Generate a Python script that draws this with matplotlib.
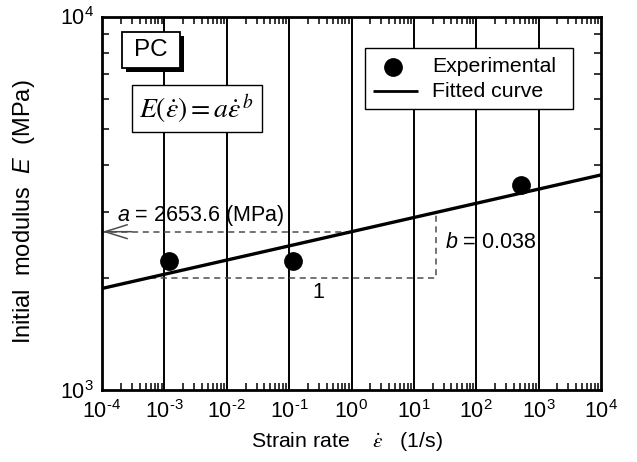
import numpy as np
import matplotlib
matplotlib.use("Agg")
import matplotlib.pyplot as plt
from matplotlib.ticker import LogLocator, NullFormatter, FixedLocator
from matplotlib.patches import Rectangle

plt.rcParams['font.family'] = ['Liberation Sans', 'DejaVu Sans']
plt.rcParams['mathtext.fontset'] = 'custom'
plt.rcParams['mathtext.rm'] = 'Liberation Sans'
plt.rcParams['mathtext.it'] = 'Liberation Sans:italic'
plt.rcParams['mathtext.bf'] = 'Liberation Sans:bold'
plt.rcParams['mathtext.sf'] = 'Liberation Sans'

# data
strain_rate = [1.19e-3, 1.15e-1, 519.0]
modulus = [2213.0, 2213.0, 3540.0]
a_coef = 2653.6
b_coef = 0.038
x_exponents = [-4, -3, -2, -1, 0, 1, 2, 3, 4]
y_exponents = [3, 4]
legend_labels = ['Experimental', 'Fitted curve']

x_ticks = [10.0**k for k in x_exponents]
x_ticklabels = [r'10$^{\text{%d}}$' % k for k in x_exponents]
y_ticks = [10.0**k for k in y_exponents]
y_ticklabels = [r'10$^{\text{%d}}$' % k for k in y_exponents]

W, H = 637, 462
fig = plt.figure(figsize=(W / 100, H / 100), dpi=100)
ax = fig.add_axes([102 / W, 1 - 390 / H, 499 / W, 373.5 / H])
ax.set_xscale('log')
ax.set_yscale('log')
ax.set_xlim(x_ticks[0], x_ticks[-1])
ax.set_ylim(y_ticks[0], y_ticks[-1])

for xv in x_ticks[1:-1]:
    ax.axvline(xv, color='black', lw=1.4, zorder=1)

xf = np.logspace(-4, 4, 200)
ax.plot(xf, a_coef * xf**b_coef, color='black', lw=2.4, zorder=3)
ax.plot(strain_rate, modulus, 'o', color='black', ms=12.5, zorder=4)

# dashed guide lines
dash = (0, (4, 3))
gc = '#4d4d4d'
ax.plot([1.0, 1.0e-4], [a_coef, a_coef], ls=dash, color=gc, lw=1.1, zorder=2)
ax.annotate('', xy=(1.02e-4, a_coef), xytext=(3.0e-4, a_coef),
            arrowprops=dict(arrowstyle='->,head_length=0.8,head_width=0.25',
                            color=gc, lw=1.1, mutation_scale=20, shrinkA=0, shrinkB=0))
x0, x1 = 5.87e-4, 22.5
ax.plot([x0, x1, x1], [a_coef * x0**b_coef, a_coef * x0**b_coef, a_coef * x1**b_coef],
        ls=dash, color=gc, lw=1.1, zorder=2)

ax.text(1.74e-4, 2925, r'$a$ = 2653.6 (MPa)', fontsize=15.5, va='center', ha='left', zorder=5)
ax.text(31.4, 2490, r'$b$ = 0.038', fontsize=15.5, va='center', ha='left', zorder=5)
ax.text(0.29, 1819, '1', fontsize=15.5, va='center', ha='center', zorder=5)

tA = ax.transAxes
sx, sy = 4 / 499, 4 / 373.5
# PC label with drop shadow
ax.add_patch(Rectangle((0.040 + sx, 0.862 - sy), 0.116, 0.096, transform=tA,
                       fc='black', ec='black', lw=0, zorder=6))
ax.add_patch(Rectangle((0.040, 0.862), 0.116, 0.096, transform=tA,
                       fc='white', ec='black', lw=1.3, zorder=7))
ax.text(0.098, 0.911, 'PC', transform=tA, fontsize=17.5, va='center', ha='center', zorder=8)

# equation box
ax.add_patch(Rectangle((0.060, 0.691), 0.261, 0.126, transform=tA,
                       fc='white', ec='black', lw=1.0, zorder=7))
ax.text(0.19, 0.752, r'$E(\dot{\varepsilon}) = a\dot{\varepsilon}^{\,b}$', transform=tA,
        fontsize=20, va='center', ha='center', zorder=8, math_fontfamily='stix')

# legend (drawn in axes coordinates)
ax.add_patch(Rectangle((0.527, 0.753), 0.417, 0.163, transform=tA,
                       fc='white', ec='black', lw=1.0, zorder=7))
ax.plot([0.583], [0.866], 'o', color='black', ms=12.5, transform=tA, zorder=8, clip_on=False)
ax.plot([0.543, 0.633], [0.801, 0.801], color='black', lw=2.0, transform=tA, zorder=8,
        solid_capstyle='butt')
ax.text(0.661, 0.866, legend_labels[0], transform=tA, fontsize=15.3, va='center', ha='left', zorder=8)
ax.text(0.661, 0.799, legend_labels[1], transform=tA, fontsize=15.3, va='center', ha='left', zorder=8)

ax.xaxis.set_major_locator(FixedLocator(x_ticks))
ax.set_xticklabels(x_ticklabels)
ax.xaxis.set_minor_locator(LogLocator(base=10, subs=np.arange(2, 10), numticks=20))
ax.xaxis.set_minor_formatter(NullFormatter())
ax.yaxis.set_major_locator(FixedLocator(y_ticks))
ax.set_yticklabels(y_ticklabels)
ax.yaxis.set_minor_locator(LogLocator(base=10, subs=np.arange(2, 10), numticks=20))
ax.yaxis.set_minor_formatter(NullFormatter())
ax.tick_params(which='both', direction='in', top=True, right=True)
ax.tick_params(which='major', length=0, labelsize=15.5)
ax.tick_params(axis='x', which='major', pad=7)
ax.tick_params(axis='y', which='major', pad=6)
ax.tick_params(which='minor', length=5, width=1.1)
for s in ax.spines.values():
    s.set_linewidth(2.0)

ax.set_xlabel(r'Strain rate    $\dot{\varepsilon}$   (1/s)', fontsize=15.3)
ax.xaxis.label.set_math_fontfamily('stix')
ax.xaxis.set_label_coords(0.491, -0.108)
ax.set_ylabel(r'Initial  modulus  $E$  (MPa)', fontsize=17)
ax.yaxis.set_label_coords(-0.13, 0.476)

fig.savefig('out.png', dpi=100)
